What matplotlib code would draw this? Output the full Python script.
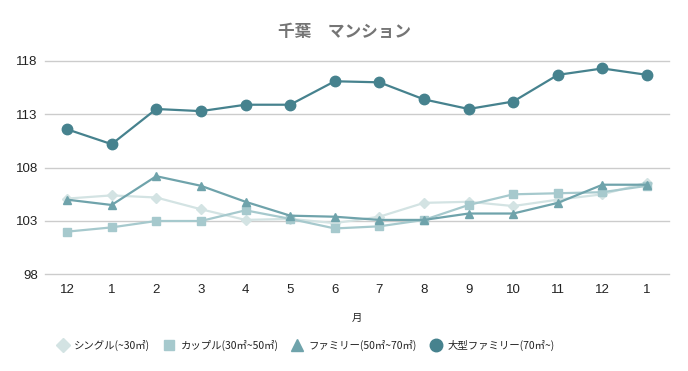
import matplotlib
matplotlib.use("Agg")
import matplotlib.pyplot as plt

plt.rcParams['font.family'] = ['Noto Sans CJK JP', 'DejaVu Sans']

months = ["12", "1", "2", "3", "4", "5", "6", "7", "8", "9", "10", "11", "12", "1"]
single = [105.1, 105.4, 105.2, 104.1, 103.1, 103.2, 102.8, 103.4, 104.7, 104.8, 104.4, 105.0, 105.5, 106.6]
couple = [102.0, 102.4, 103.0, 103.0, 104.0, 103.2, 102.3, 102.5, 103.1, 104.5, 105.5, 105.6, 105.7, 106.3]
family = [105.0, 104.5, 107.2, 106.3, 104.8, 103.5, 103.4, 103.1, 103.1, 103.7, 103.7, 104.7, 106.4, 106.4]
large = [111.6, 110.2, 113.5, 113.3, 113.9, 113.9, 116.1, 116.0, 114.4, 113.5, 114.2, 116.7, 117.3, 116.7]
yticks = [98, 103, 108, 113, 118]
labels = ["シングル(~30㎡)", "カップル(30㎡~50㎡)", "ファミリー(50㎡~70㎡)", "大型ファミリー(70㎡~)"]
title = "千葉　マンション"
xlabel = "月"

fig = plt.figure(figsize=(6.88, 3.71), dpi=100)
ax = fig.add_axes([0.065, 0.2606, 0.908, 0.575])

x = list(range(len(months)))
styles = [
    (single, "#d3e3e3", "D", 5.0, 7),
    (couple, "#a6c9cd", "s", 5.5, 7),
    (family, "#6fa3ab", "^", 6.0, 8),
    (large, "#46828e", "o", 7.5, 9),
]
for (vals, col, mk, ms, lms), lab in zip(styles, labels):
    ax.plot(x, vals, color=col, marker=mk, markersize=ms, linewidth=1.6,
            label=lab, zorder=3, clip_on=False)

ax.set_xlim(-0.5, len(months) - 0.5)
ax.set_ylim(98, 118)
ax.set_yticks(yticks)
ax.set_xticks(x)
ax.set_xticklabels(months)
ax.grid(axis='y', color='#cccccc', linewidth=1)
for gl in ax.get_ygridlines():
    gl.set_clip_on(False)
ax.set_axisbelow(True)
for s in ax.spines.values():
    s.set_visible(False)
ax.tick_params(axis='both', length=0, labelsize=9.5, colors='#222222')
for t in ax.get_xticklabels() + ax.get_yticklabels():
    t.set_family(['Liberation Sans', 'DejaVu Sans'])
ax.tick_params(axis='x', pad=7)
ax.tick_params(axis='y', pad=5)

fig.text(0.5, 0.915, title, ha='center', va='center', fontsize=12,
         fontweight='bold', color='#757575')
fig.text(0.519, 0.143, xlabel, ha='center', va='center', fontsize=7.5,
         color='#222222')

leg_handles = []
for (vals, col, mk, ms, lms), lab in zip(styles, labels):
    lh, = ax.plot([], [], color=col, marker=mk, markersize=lms, linestyle='none')
    leg_handles.append(lh)
fig.legend(leg_handles, labels, loc='center', bbox_to_anchor=(0.445, 0.07), ncol=4,
           frameon=False, fontsize=7.5, handlelength=1.0, handletextpad=0.6,
           columnspacing=1.3, labelcolor='#222222')

fig.savefig("out.png", dpi=100, facecolor='white')
